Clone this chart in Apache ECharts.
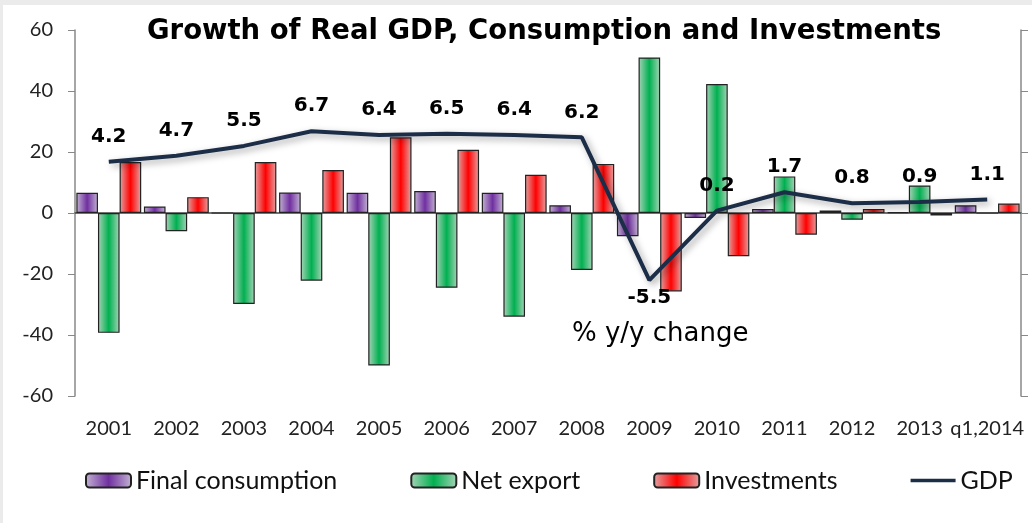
<!DOCTYPE html>
<html>
<head>
<meta charset="utf-8">
<script src="https://cdn.jsdelivr.net/npm/echarts@6/dist/echarts.min.js"></script>
<style>
    body { margin: 0; background: #fff; }
    #main { width: 1032px; height: 523px; }
    .edgeTop { position: absolute; left: 0; top: 0; width: 1032px; height: 5px; background: #ebebeb; }
    .edgeLeft { position: absolute; left: 0; top: 0; width: 3px; height: 523px; background: #ebebeb; }
</style>
</head>
<body>
<div id="main"></div>
<div class="edgeTop"></div>
<div class="edgeLeft"></div>
<script>
// 年份
const years = ['2001', '2002', '2003', '2004', '2005', '2006', '2007', '2008', '2009', '2010', '2011', '2012', '2013', 'q1,2014'];
// 最终消费
const finalConsumption = [6.6, 2.1, 0, 6.7, 6.6, 7.2, 6.6, 2.5, -7.6, -1.6, 1.3, 0.8, 0.3, 2.5];
// 净出口
const netExport = [-39.3, -6, -29.8, -22.2, -50, -24.5, -34, -18.7, 51, 42.3, 12, -2.2, 9, 0];
// 投资
const investments = [16.7, 5.2, 16.7, 14.1, 24.8, 20.7, 12.5, 16.1, -25.7, -14.2, -7.1, 1.3, -0.8, 3.1];
// GDP (右轴)
const gdp = [4.2, 4.7, 5.5, 6.7, 6.4, 6.5, 6.4, 6.2, -5.5, 0.2, 1.7, 0.8, 0.9, 1.1];

const leftTicks = { min: -60, max: 60, interval: 20 };
const rightTicks = { min: -15, max: 15, interval: 5 };

const FONT = 'Lato';
const WIDE = 'DejaVu Sans';

// 柱子渐变: 两边浅, 中间深
function barGrad(edge, mid) {
    return new echarts.graphic.LinearGradient(0, 0, 1, 0, [
        { offset: 0, color: edge },
        { offset: 0.5, color: mid },
        { offset: 1, color: edge }
    ], false);
}

function barSeries(name, data, edge, mid) {
    return {
        name,
        type: 'bar',
        data,
        barGap: '0%',
        barCategoryGap: '4%',
        itemStyle: {
            color: barGrad(edge, mid),
            borderColor: '#222',
            borderWidth: 1.2
        }
    };
}

let myChart = echarts.init(document.getElementById('main'));

let option = {
    backgroundColor: '#fff',
    animation: false,
    title: {
        text: 'Growth of Real GDP, Consumption and Investments',
        left: 142,
        top: 13,
        textStyle: {
            fontFamily: WIDE,
            fontWeight: 'bold',
            fontSize: 27.5,
            color: '#000'
        }
    },
    legend: {
        left: 85,
        top: 468,
        padding: 0,
        itemWidth: 45,
        itemHeight: 14,
        itemGap: 73,
        textStyle: {
            fontFamily: FONT,
            fontSize: 25,
            color: '#111'
        },
        data: [
            'Final consumption',
            'Net export',
            'Investments',
            { name: 'GDP', icon: 'path://M0,0 L50,0 L50,4 L0,4 Z' }
        ]
    },
    grid: {     //图表位置
        left: 75,
        right: 11,
        top: 30,
        bottom: 127
    },
    xAxis: [
        {
            // 零线上的轴线和刻度
            type: 'category',
            data: years,
            axisLine: {
                onZero: true,
                lineStyle: { color: '#444', width: 1.5 }
            },
            axisTick: {
                length: 6,
                lineStyle: { color: '#666', width: 1 }
            },
            axisLabel: { show: false }
        },
        {
            // 底部的年份文字
            type: 'category',
            data: years,
            position: 'bottom',
            axisLine: { show: false, onZero: false },
            axisTick: { show: false },
            axisLabel: {
                margin: 23,
                interval: 0,
                fontFamily: FONT,
                fontSize: 20,
                color: '#222'
            }
        }
    ],
    yAxis: [
        {
            type: 'value',
            min: leftTicks.min,
            max: leftTicks.max,
            interval: leftTicks.interval,
            axisLine: { show: true, lineStyle: { color: '#888', width: 1.5 } },
            axisTick: { show: true, length: 7, lineStyle: { color: '#888' } },
            axisLabel: {
                margin: 22,
                fontFamily: FONT,
                fontSize: 20,
                color: '#222'
            },
            splitLine: { show: false }
        },
        {
            type: 'value',
            position: 'right',
            min: rightTicks.min,
            max: rightTicks.max,
            interval: rightTicks.interval,
            axisLine: { show: true, lineStyle: { color: '#888', width: 1.5 } },
            axisTick: { show: true, length: 7, lineStyle: { color: '#888' } },
            axisLabel: { show: false },
            splitLine: { show: false }
        }
    ],
    graphic: [
        {
            type: 'text',
            left: 572,
            top: 321,
            style: {
                text: '% y/y change',
                fontFamily: WIDE,
                fontSize: 26,
                fill: '#000'
            }
        }
    ],
    series: [
        barSeries('Final consumption', finalConsumption, '#c4b4d4', '#7030a0'),
        barSeries('Net export', netExport, '#a8d4b8', '#00b050'),
        barSeries('Investments', investments, '#e4a4a4', '#ff0000'),
        {
            name: 'GDP',
            type: 'line',
            yAxisIndex: 1,
            data: gdp.map(v => ({
                value: v,
                label: { position: v < 0 ? 'bottom' : 'top', distance: v < 0 ? 8 : 15 }
            })),
            symbol: 'circle',
            symbolSize: 0,
            z: 5,
            lineStyle: {
                color: '#1c2d48',
                width: 4,
                shadowColor: 'rgba(0,0,0,0.35)',
                shadowBlur: 7,
                shadowOffsetX: 3,
                shadowOffsetY: 3
            },
            itemStyle: { color: '#1c2d48' },
            label: {
                show: true,
                fontFamily: WIDE,
                fontWeight: 'bold',
                fontSize: 20,
                color: '#000'
            }
        }
    ]
};

myChart.setOption(option);
</script>
</body>
</html>
